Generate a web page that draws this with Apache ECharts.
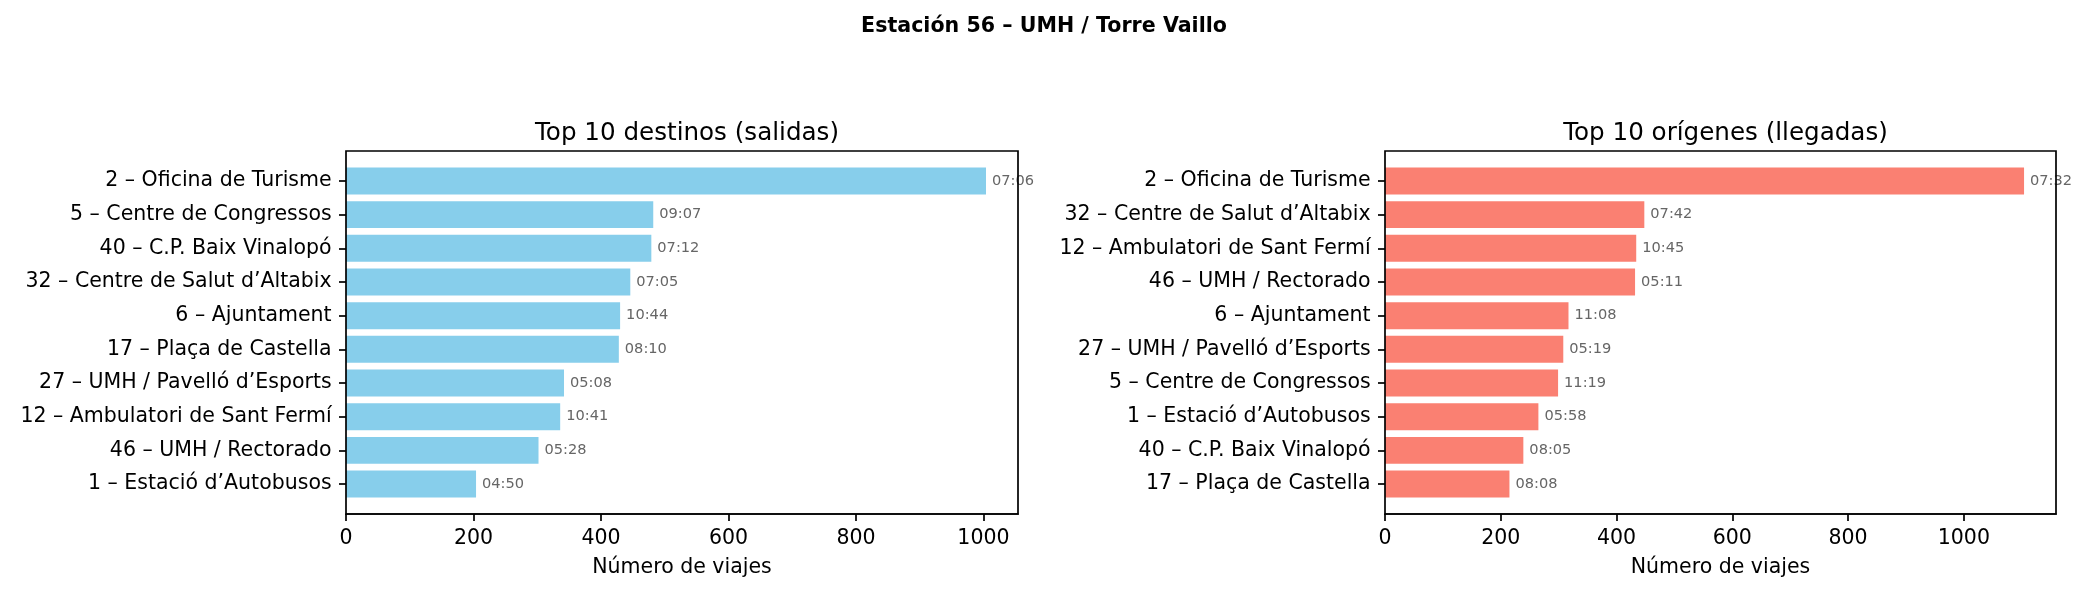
<!DOCTYPE html>
<html>
<head>
<meta charset="utf-8">
<script src="https://cdn.jsdelivr.net/npm/echarts@6/dist/echarts.min.js"></script>
<style>
html,body{margin:0;padding:0;background:#fff;}
#c{width:2088px;height:594px;}
</style>
</head>
<body>
<div id="c"></div>
<script>
// ---- data ----
const suptitle = 'Estación 56 – UMH / Torre Vaillo';
const leftTitle = 'Top 10 destinos (salidas)';
const rightTitle = 'Top 10 orígenes (llegadas)';
const xName = 'Número de viajes';

const destNames = ['2 – Oficina de Turisme','5 – Centre de Congressos','40 – C.P. Baix Vinalopó','32 – Centre de Salut d’Altabix','6 – Ajuntament','17 – Plaça de Castella','27 – UMH / Pavelló d’Esports','12 – Ambulatori de Sant Fermí','46 – UMH / Rectorado','1 – Estació d’Autobusos'];
const destValues = [1004, 482, 479, 446, 430, 428, 342, 336, 302, 204];
const destTimes = ['07:06','09:07','07:12','07:05','10:44','08:10','05:08','10:41','05:28','04:50'];

const origNames = ['2 – Oficina de Turisme','32 – Centre de Salut d’Altabix','12 – Ambulatori de Sant Fermí','46 – UMH / Rectorado','6 – Ajuntament','27 – UMH / Pavelló d’Esports','5 – Centre de Congressos','1 – Estació d’Autobusos','40 – C.P. Baix Vinalopó','17 – Plaça de Castella'];
const origValues = [1104, 448, 434, 432, 317, 308, 299, 265, 239, 215];
const origTimes = ['07:32','07:42','10:45','05:11','11:08','05:19','11:19','05:58','08:05','08:08'];

const xTicks = [0, 200, 400, 600, 800, 1000];

// ---- layout ----
const FONT = 'DejaVu Sans';
const W = 2088, H = 594;
const axTop = 151, axBottom = 514;
const panels = [
  {left: 346, right: 1018, names: destNames, values: destValues, times: destTimes, color: '#87CEEB', title: leftTitle},
  {left: 1385, right: 2056, names: origNames, values: origValues, times: origTimes, color: '#FA8072', title: rightTitle}
];
const axH = axBottom - axTop;
const n = 10;
const unit = axH / (n - 1 + 0.8 + 2 * 0.05 * (n - 1 + 0.8));
const pad = (0.05 * (n - 1 + 0.8) - 0.1) * unit; // extra space between band edge and frame

const grids = [], xAxes = [], yAxes = [], series = [], titles = [];
titles.push({text: suptitle, left: 'center', top: 11,
  textStyle: {fontFamily: FONT, fontSize: 20.6, fontWeight: 'bold', color: '#000'}});

panels.forEach((p, i) => {
  const gFrame = grids.length;
  grids.push({left: p.left, top: axTop, width: p.right - p.left, height: axH,
    containLabel: false, outerBoundsMode: 'none',
    show: true, borderColor: '#000', borderWidth: 1.7, backgroundColor: 'transparent', z: 5});
  const gBars = grids.length;
  grids.push({left: p.left, top: axTop + pad, width: p.right - p.left, height: axH - 2 * pad,
    containLabel: false, outerBoundsMode: 'none'});

  // frame grid dummy axes
  xAxes.push({gridIndex: gFrame, type: 'value', show: false});
  yAxes.push({gridIndex: gFrame, type: 'value', show: false});

  const maxV = Math.max(...p.values) * 1.05;
  xAxes.push({gridIndex: gBars, type: 'value', min: 0, max: maxV, position: 'bottom', offset: pad,
    name: xName, nameLocation: 'middle', nameGap: 42, nameMoveOverlap: false,
    nameTextStyle: {fontFamily: FONT, fontSize: 20.5, color: '#000', lineHeight: 24},
    axisLine: {show: true, lineStyle: {color: '#000', width: 1.7}},
    axisTick: {show: true, length: 7, lineStyle: {color: '#000', width: 1.7}, customValues: xTicks},
    axisLabel: {fontFamily: FONT, fontSize: 20.5, color: '#000', margin: 14.4, customValues: xTicks,
      formatter: (v) => String(v)},
    splitLine: {show: false}});
  yAxes.push({gridIndex: gBars, type: 'category', inverse: true, data: p.names,
    axisLine: {show: false},
    axisTick: {show: true, alignWithLabel: true, length: 7, lineStyle: {color: '#000', width: 1.7}},
    axisLabel: {fontFamily: FONT, fontSize: 20.5, color: '#000', margin: 14.4, interval: 0}});

  series.push({type: 'bar', xAxisIndex: xAxes.length - 1, yAxisIndex: yAxes.length - 1,
    data: p.values, barWidth: '80%', itemStyle: {color: p.color},
    label: {show: true, position: 'right', distance: 6, fontFamily: FONT, fontSize: 14.6, color: '#666',
      formatter: (d) => p.times[d.dataIndex]},
    z: 2});

  titles.push({text: p.title, left: (p.left + p.right) / 2, top: 116, textAlign: 'center',
    textStyle: {fontFamily: FONT, fontSize: 24.6, fontWeight: 'normal', color: '#000'}});
});

const chart = echarts.init(document.getElementById('c'), null, {renderer: 'canvas', width: W, height: H});
chart.setOption({
  animation: false,
  backgroundColor: '#fff',
  title: titles,
  grid: grids,
  xAxis: xAxes,
  yAxis: yAxes,
  series: series
});
</script>
</body>
</html>
